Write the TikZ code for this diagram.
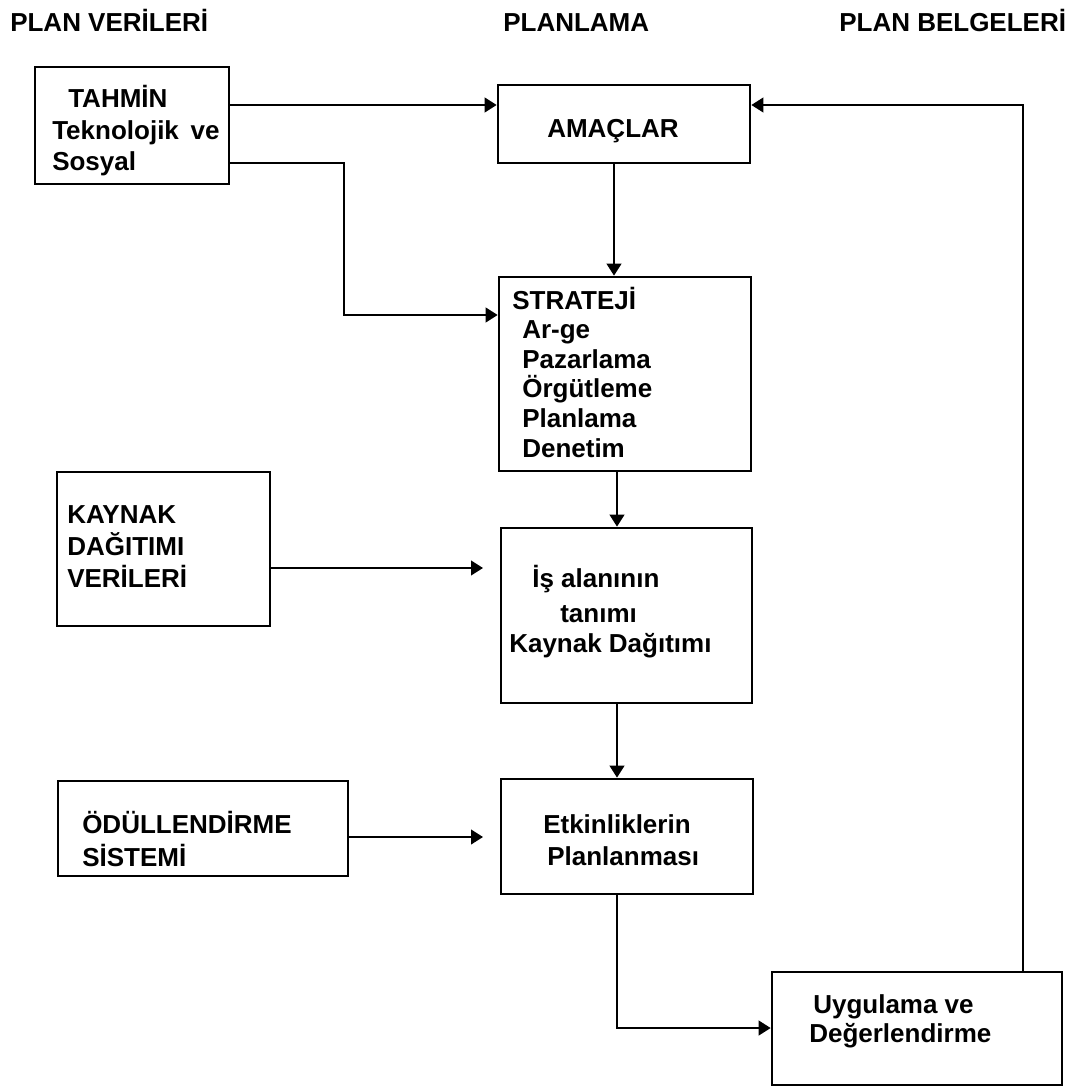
\documentclass[tikz,border=0pt]{standalone}
\usepackage{fontspec}
\setmainfont{Liberation Sans}
\usetikzlibrary{arrows.meta,fit}

\begin{document}
\begin{tikzpicture}[x=0.75pt, y=-0.75pt,
  box/.style={draw, line width=2pt, inner sep=0pt},
  conn/.style={line width=1.5pt, -{Triangle[length=9pt, width=11pt]}},
  lbl/.style={anchor=base west, inner sep=0pt, font=\bfseries\fontsize{19.5}{23}\selectfont}]

\useasboundingbox (0,0) rectangle (1076,1087);

% column headings
\node[lbl] (hd1) at (10,32) {PLAN VERİLERİ};
\node[lbl] (hd2) at (503,32) {PLANLAMA};
\node[lbl] (hd3) at (839,32) {PLAN BELGELERİ};

% boxes
\node[box, fit={(35,67) (229,184)}] (tahmin) {};
\node[box, fit={(498,85) (750,163)}] (amac) {};
\node[box, fit={(499,277) (751,471)}] (strat) {};
\node[box, fit={(57,472) (270,626)}] (kaynak) {};
\node[box, fit={(501,528) (752,703)}] (isalan) {};
\node[box, fit={(58,781) (348,876)}] (odul) {};
\node[box, fit={(501,779) (753,894)}] (etk) {};
\node[box, fit={(772,972) (1062,1085)}] (uyg) {};

% box texts
\node[lbl] (t1) at (68,108) {TAHMİN};
\node[lbl] (t2) at (52,140) {Teknolojik\hspace{0.45em}ve};
\node[lbl] (t3) at (52,171) {Sosyal};

\node[lbl] (a1) at (547,138) {AMAÇLAR};

\node[lbl] (s0) at (512,309) {STRATEJİ};
\node[lbl] (s1) at (522,338) {Ar-ge};
\node[lbl] (s2) at (522,368) {Pazarlama};
\node[lbl] (s3) at (522,397) {Örgütleme};
\node[lbl] (s4) at (522,427) {Planlama};
\node[lbl] (s5) at (522,457) {Denetim};

\node[lbl] (k1t) at (67,523) {KAYNAK};
\node[lbl] (k2t) at (67,555) {DAĞITIMI};
\node[lbl] (k3t) at (67,587) {VERİLERİ};

\node[lbl] (i1) at (532,587) {İş alanının};
\node[lbl] (i2) at (560,622) {tanımı};
\node[lbl] (i3) at (509,652) {Kaynak Dağıtımı};

\node[lbl] (o1) at (82,833) {ÖDÜLLENDİRME};
\node[lbl] (o2) at (82,866) {SİSTEMİ};

\node[lbl] (e1) at (543,833) {Etkinliklerin};
\node[lbl] (e2) at (547,865) {Planlanması};

\node[lbl] (u1) at (813,1013) {Uygulama ve};
\node[lbl] (u2) at (809,1042) {Değerlendirme};

% helper points for the connector routes
\coordinate (h1) at (0,105);
\coordinate (v1) at (344,163);
\coordinate (h2) at (0,315);
\coordinate (v2) at (614,0);
\coordinate (v3) at (617,0);
\coordinate (h3) at (0,1028);
\coordinate (v4) at (1023,0);
\coordinate (kend) at (483,568);
\coordinate (oend) at (483,837);

% connectors
\draw[conn] (tahmin.east |- h1) -- (amac.west |- h1);
\draw[conn] (tahmin.east |- v1) -- (v1) |- (strat.west |- h2);
\draw[conn] (amac.south -| v2) -- (strat.north -| v2);
\draw[conn] (strat.south -| v3) -- (isalan.north -| v3);
\draw[conn] (isalan.south -| v3) -- (etk.north -| v3);
\draw[conn] (etk.south -| v3) |- (uyg.west |- h3);
\draw[conn] (uyg.north -| v4) |- (amac.east |- h1);
\draw[conn] (kaynak.east |- kend) -- (kend);
\draw[conn] (odul.east |- oend) -- (oend);

\end{tikzpicture}
\end{document}
